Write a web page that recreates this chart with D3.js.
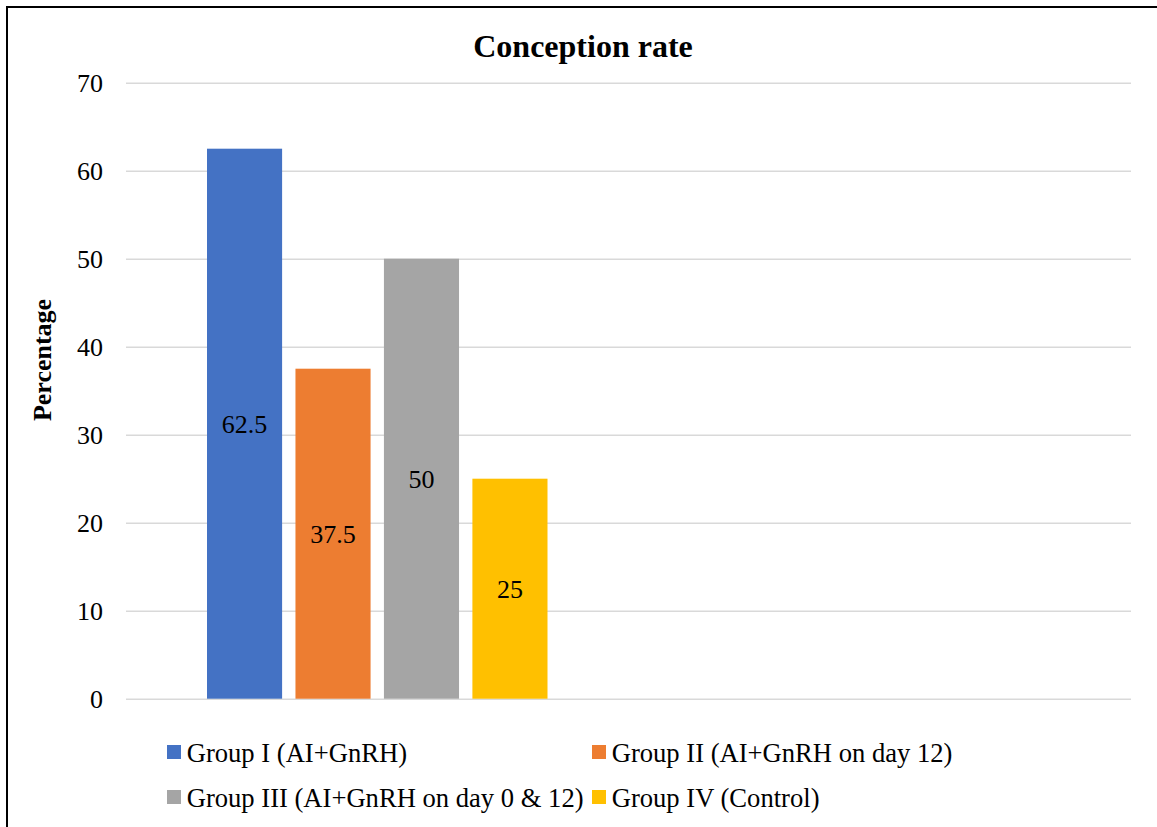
<!DOCTYPE html>
<html>
<head>
<meta charset="utf-8">
<script src="https://cdn.jsdelivr.net/npm/d3@7"></script>
<style>
  html, body { margin: 0; padding: 0; background: #fff; }
  svg { display: block; }
  text { font-family: "Liberation Serif", "Times New Roman", serif; fill: #000; }
</style>
</head>
<body>
<svg id="chart" width="1157" height="827"></svg>
<script>
const title = "Conception rate";
const yTitle = "Percentage";
const categories = ["Conception rate", ""];
const seriesNames = [
  "Group I (AI+GnRH)",
  "Group II (AI+GnRH on day 12)",
  "Group III (AI+GnRH on day 0 & 12)",
  "Group IV (Control)"
];
const seriesValues = [62.5, 37.5, 50, 25];
const seriesColors = ["#4472C4", "#ED7D31", "#A5A5A5", "#FFC000"];
const yTicks = [0, 10, 20, 30, 40, 50, 60, 70];

const svg = d3.select("#chart");

// border
svg.append("path")
  .attr("d", "M7,827 V7 H1157")
  .attr("fill", "none").attr("stroke", "#000").attr("stroke-width", 2);

const plotLeft = 126, plotRight = 1131, plotTop = 82.7, plotBottom = 698.7;

const x0 = d3.scaleBand().domain(categories).range([plotLeft, plotRight]).padding(0);
const groupPad = 81;
const x1 = d3.scaleBand().domain(seriesNames)
  .range([groupPad, x0.bandwidth() - groupPad])
  .paddingInner(0.151).paddingOuter(0);
const y = d3.scaleLinear().domain([0, 70]).range([plotBottom, plotTop]);

// gridlines
const yAxis = d3.axisLeft(y).tickValues(yTicks).tickSize(-(plotRight - plotLeft)).tickPadding(23);
const gy = svg.append("g").attr("transform", `translate(${plotLeft},0)`).call(yAxis);
gy.select(".domain").remove();
gy.selectAll(".tick line").attr("stroke", "#D9D9D9").attr("stroke-width", 1.5);
gy.selectAll(".tick text")
  .style("font-family", '"Liberation Serif", "Times New Roman", serif')
  .style("font-size", "26px").attr("fill", "#000");

// bars
const g = svg.append("g").attr("transform", `translate(${x0(categories[0])},0)`);
const data = seriesNames.map((s, i) => ({ s, v: seriesValues[i], c: seriesColors[i] }));
g.selectAll("rect").data(data).enter().append("rect")
  .attr("x", d => x1(d.s))
  .attr("y", d => y(d.v))
  .attr("width", x1.bandwidth())
  .attr("height", d => y(0) - y(d.v))
  .attr("fill", d => d.c);

g.selectAll("text.lbl").data(data).enter().append("text")
  .attr("class", "lbl")
  .attr("x", d => x1(d.s) + x1.bandwidth() / 2)
  .attr("y", d => (y(d.v) + y(0)) / 2)
  .attr("dy", "0.35em")
  .attr("text-anchor", "middle")
  .style("font-size", "26px")
  .text(d => d.v);

// title
svg.append("text")
  .attr("x", 583).attr("y", 56.5)
  .attr("text-anchor", "middle")
  .style("font-size", "32px").style("font-weight", "bold")
  .text(title);

// y title
svg.append("text")
  .attr("transform", "translate(51,360) rotate(-90)")
  .attr("text-anchor", "middle")
  .style("font-size", "26px").style("font-weight", "bold")
  .text(yTitle);

// legend
const legendPos = [
  { x: 167, y: 761.5 }, { x: 592, y: 761.5 },
  { x: 167, y: 806.5 }, { x: 592, y: 806.5 }
];
const lg = svg.append("g");
data.forEach((d, i) => {
  const p = legendPos[i];
  lg.append("rect").attr("x", p.x).attr("y", p.y - 16.5).attr("width", 14).attr("height", 14).attr("fill", d.c);
  lg.append("text").attr("x", p.x + 19.7).attr("y", p.y).style("font-size", "26.6px").text(d.s);
});
</script>
</body>
</html>
